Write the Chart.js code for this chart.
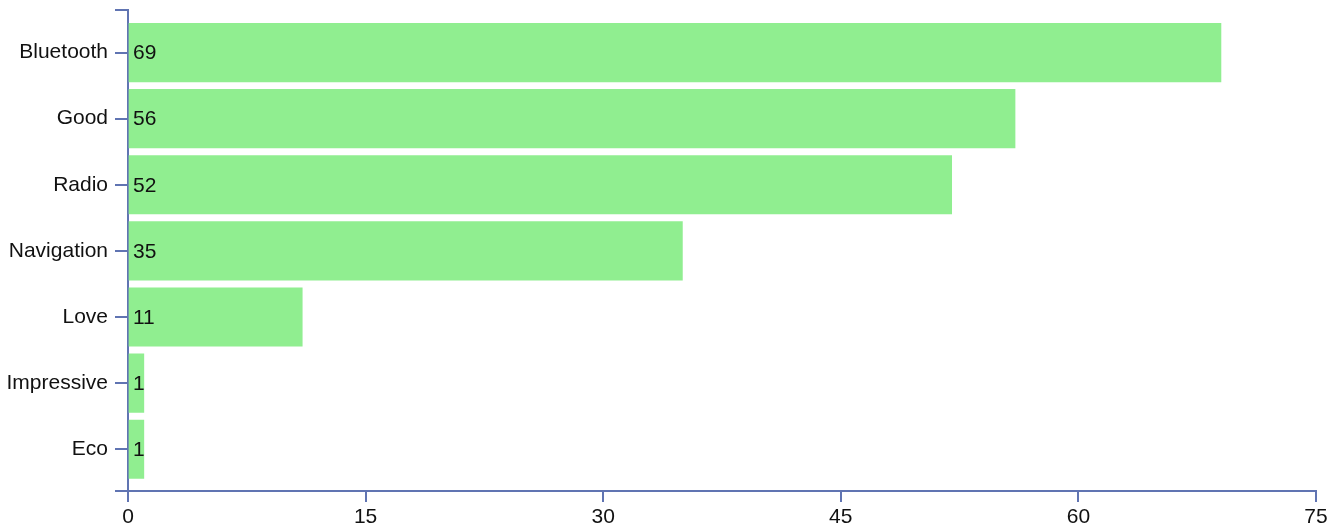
<!DOCTYPE html>
<html>
<head>
<meta charset="utf-8">
<script src="https://cdn.jsdelivr.net/npm/chart.js@4"></script>
<style>
  body { margin: 0; background: #fff; }
  #wrap { width: 1335px; height: 528px; position: relative; }
</style>
</head>
<body>
<div id="wrap"><canvas id="barChart"></canvas></div>
<script>
const categories = ['Bluetooth', 'Good', 'Radio', 'Navigation', 'Love', 'Impressive', 'Eco'];
const counts = [69, 56, 52, 35, 11, 1, 1];
const xTicks = [0, 15, 30, 45, 60, 75];

const axisColor = '#6074b2';
const fontFamily = "Arial, 'Liberation Sans', sans-serif";
const fontSize = 21;

// band edges of the category axis (a bit of outer padding like d3)
const yMin = -0.644;
const yMax = 6.632;

const valueLabels = {
    id: 'valueLabels',
    afterDatasetsDraw(chart) {
        const ctx = chart.ctx;
        const xs = chart.scales.x;
        const meta = chart.getDatasetMeta(0);
        ctx.save();
        ctx.font = fontSize + 'px ' + fontFamily;
        ctx.fillStyle = '#111';
        ctx.textAlign = 'left';
        ctx.textBaseline = 'middle';
        meta.data.forEach((bar, i) => {
            ctx.fillText(String(counts[i]), xs.getPixelForValue(0) + 5, bar.y + 1);
        });
        ctx.restore();
    }
};

const ctx = document.getElementById('barChart').getContext('2d');
const barChart = new Chart(ctx, {
    type: 'bar',
    data: {
        datasets: [{
            data: counts.map((v, i) => ({ x: v, y: i })),
            backgroundColor: '#90EE90',
            borderWidth: 0,
            barThickness: 58.5
        }]
    },
    options: {
        indexAxis: 'y',
        responsive: true,
        maintainAspectRatio: false,
        animation: false,
        layout: { padding: { top: 10, right: 19, left: 0, bottom: 0 } },
        plugins: {
            legend: { display: false },
            tooltip: { enabled: false }
        },
        scales: {
            x: {
                type: 'linear',
                position: 'bottom',
                min: 0,
                max: 75,
                afterBuildTicks: s => { s.ticks = xTicks.map(v => ({ value: v })); },
                afterFit: s => { s.height = 37; },
                grid: { drawOnChartArea: false, drawTicks: true, tickLength: 11, color: axisColor, lineWidth: 2 },
                border: { display: true, color: axisColor, width: 2 },
                ticks: { color: '#111', padding: 3, font: { size: fontSize, family: fontFamily }, maxRotation: 0 }
            },
            y: {
                type: 'linear',
                reverse: true,
                offset: false,
                min: yMin,
                max: yMax,
                afterBuildTicks: s => {
                    s.ticks = [yMin, ...categories.map((c, i) => i), yMax].map(v => ({ value: v }));
                },
                afterFit: s => { s.width = 128; s.paddingTop = 0; s.paddingBottom = 0; },
                grid: { offset: false, drawOnChartArea: false, drawTicks: true, tickLength: 13, color: axisColor, lineWidth: 2 },
                border: { display: true, color: axisColor, width: 2 },
                ticks: {
                    color: '#111',
                    padding: 7,
                    autoSkip: false,
                    font: { size: fontSize, family: fontFamily },
                    callback: v => Number.isInteger(v) ? categories[v] : ''
                }
            }
        }
    },
    plugins: [valueLabels]
});
</script>
</body>
</html>
